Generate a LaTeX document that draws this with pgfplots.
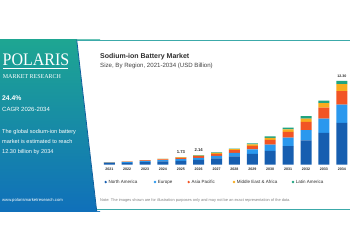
\documentclass[border=0pt]{standalone}
\usepackage{pgfplots}
\pgfplotsset{compat=1.18}
\usepackage{pgfplotstable}
\usepackage{fontspec}
\setmainfont{Liberation Sans}
\newfontfamily\logofont{Liberation Serif}
\definecolor{cNA}{RGB}{22,94,176}
\definecolor{cEU}{RGB}{42,152,238}
\definecolor{cAP}{RGB}{242,84,36}
\definecolor{cME}{RGB}{248,172,30}
\definecolor{cLA}{RGB}{32,164,128}
\definecolor{pTop}{RGB}{30,166,146}
\definecolor{pBot}{RGB}{16,112,186}
\definecolor{tealline}{RGB}{60,170,170}
\definecolor{txt}{RGB}{45,45,45}

\pgfplotstableread{
x na eu ap me la
0 0.20 0.08 0.04 0.01 0.01
1 0.25 0.10 0.06 0.02 0.01
2 0.35 0.15 0.09 0.03 0.02
3 0.45 0.20 0.12 0.04 0.02
4 0.54 0.24 0.18 0.07 0.04
5 0.69 0.30 0.23 0.10 0.05
6 0.89 0.39 0.30 0.12 0.07
7 1.18 0.52 0.40 0.16 0.09
8 1.55 0.68 0.52 0.22 0.12
9 2.01 0.93 0.69 0.29 0.20
10 2.69 1.27 0.83 0.39 0.25
11 3.53 1.52 1.22 0.49 0.34
12 4.66 2.10 1.62 0.63 0.39
13 6.13 2.69 1.96 1.03 0.49
}\data

\begin{document}
\begin{tikzpicture}[x=1pt,y=1pt]
\useasboundingbox[fill=white] (0,0) rectangle (350,250);
% left panel
\shade[top color=pTop, bottom color=pBot] (0,39) rectangle (100,210.5);
% card
\fill[white] (76.7,210.5) -- (350,210.5) -- (350,39) -- (96.7,39) -- cycle;
\draw[pBot!85!black, line width=0.8pt] (76.7,210.5) -- (96.7,39);
\draw[tealline, line width=0.9pt] (76.7,209.8) -- (350,209.8);
\draw[tealline, line width=0.9pt] (96.7,40.6) -- (350,40.6);

% left panel text
\node[anchor=west, inner sep=0pt, white] at (2.5,190.5) {\logofont\fontsize{16}{16}\selectfont\scalebox{1}[1.1]{POLARIS}};
\draw[white, line width=0.4pt] (3,182.3) -- (68,182.3);
\node[anchor=west, inner sep=0pt, white] at (2.7,173) {\logofont\fontsize{6}{6}\selectfont MARKET RESEARCH};
\node[anchor=west, inner sep=0pt, white] at (2,152.3) {\fontsize{6.8}{7}\selectfont\bfseries 24.4\%};
\node[anchor=west, inner sep=0pt, white] at (2,141) {\fontsize{6}{7}\selectfont CAGR 2026-2034};
\node[anchor=west, inner sep=0pt, white] at (2,117.7) {\fontsize{5.6}{6}\selectfont The global sodium-ion battery};
\node[anchor=west, inner sep=0pt, white] at (2,108.3) {\fontsize{5.6}{6}\selectfont market is estimated to reach};
\node[anchor=west, inner sep=0pt, white] at (2,98) {\fontsize{5.6}{6}\selectfont 12.30 billion by 2034};
\node[anchor=west, inner sep=0pt, white] at (2,50) {\fontsize{4.2}{5}\selectfont www.polarismarketresearch.com};

% titles
\node[anchor=west, inner sep=0pt, text=txt] at (100,193.3) {\fontsize{7}{8}\selectfont\bfseries Sodium-ion Battery Market};
\node[anchor=west, inner sep=0pt, text=txt!90] at (100,184) {\fontsize{6.1}{7}\selectfont Size, By Region, 2021-2034 (USD Billion)};

\begin{axis}[
  at={(98.6pt,85.5pt)}, anchor=south west,
  scale only axis, width=251.2pt, height=88.4pt,
  xmin=-0.6, xmax=13.45, ymin=0, ymax=13,
  ybar stacked, bar width=11pt,
  axis lines*=left, axis line style={draw=none},
  ytick=\empty, xtick=data,
  xticklabels={2021,2022,2023,2024,2025,2026,2027,2028,2029,2030,2031,2032,2033,2034},
  major tick length=0pt,
  xticklabel style={anchor=center, yshift=-4.5pt, font=\fontsize{3.6}{4}\selectfont\bfseries, text=txt},
  clip=false,
]
\addplot[fill=cNA, draw=none] table[x=x,y=na]{\data};
\addplot[fill=cEU, draw=none] table[x=x,y=eu]{\data};
\addplot[fill=cAP, draw=none] table[x=x,y=ap]{\data};
\addplot[fill=cME, draw=none] table[x=x,y=me]{\data};
\addplot[fill=cLA, draw=none] table[x=x,y=la]{\data};
\node[anchor=south, inner sep=0pt, yshift=3.5pt, text=txt] at (axis cs:4,1.07) {\fontsize{4.2}{4}\selectfont\bfseries 1.73};
\node[anchor=south, inner sep=0pt, yshift=3.5pt, text=txt] at (axis cs:5,1.37) {\fontsize{4.2}{4}\selectfont\bfseries 2.14};
\node[anchor=south, inner sep=0pt, yshift=3pt, text=txt] at (axis cs:13,12.30) {\fontsize{3.6}{4}\selectfont\bfseries 12.30};
\end{axis}

% legend
\foreach \xx/\cc/\tt in {105.7/cNA/North America, 155/cEU/Europe, 188.7/cAP/Asia Pacific, 234/cME/Middle East \& Africa, 293/cLA/Latin America}{
  \fill[\cc] (\xx,68) circle (1.3pt);
  \node[anchor=west, inner sep=0pt, text=txt] at (\xx+2.6,68) {\fontsize{4.5}{5}\selectfont \tt};
}
% note
\node[anchor=west, inner sep=0pt, text=black!50] at (100,50) {\fontsize{3.9}{4}\selectfont Note: The images shown are for illustration purposes only and may not be an exact representation of the data.};
\end{tikzpicture}
\end{document}
